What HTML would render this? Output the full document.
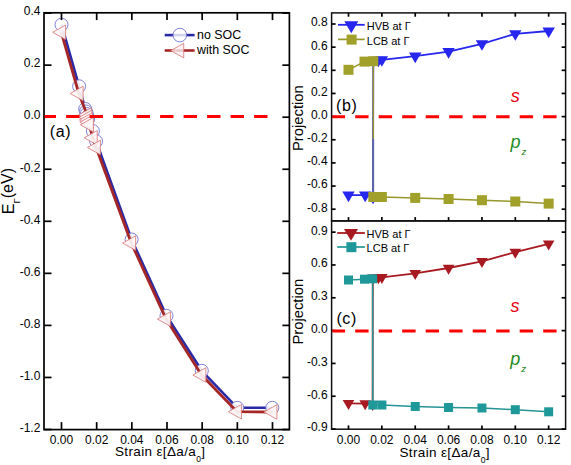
<!DOCTYPE html><html><head><meta charset="utf-8"><style>html,body{margin:0;padding:0;background:#fff;width:571px;height:465px;overflow:hidden;}svg text{font-family:"Liberation Sans", sans-serif;}</style></head><body><svg width="571" height="465" viewBox="0 0 571 465" style="position:absolute;left:0;top:0;font-family:'Liberation Sans', sans-serif">
<rect x="0" y="0" width="571" height="465" fill="#fff"/>
<polyline points="61.50,24.70 79.10,86.30 85.20,109.00 86.00,111.50 86.70,114.00 87.40,116.50 88.10,119.00 92.90,131.00 96.10,141.30 131.60,239.50 166.50,315.80 201.80,370.80 237.30,407.80 272.30,407.80" fill="none" stroke="#2a2aa6" stroke-width="2.6" stroke-linejoin="round" />
<circle cx="61.50" cy="24.70" r="6.5" fill="rgba(255,255,255,0.9)" stroke="#7272d4" stroke-width="0.9"/>
<circle cx="79.10" cy="86.30" r="6.5" fill="rgba(255,255,255,0.9)" stroke="#7272d4" stroke-width="0.9"/>
<circle cx="85.20" cy="109.00" r="6.5" fill="rgba(255,255,255,0.9)" stroke="#7272d4" stroke-width="0.9"/>
<circle cx="86.00" cy="111.50" r="6.5" fill="rgba(255,255,255,0.9)" stroke="#7272d4" stroke-width="0.9"/>
<circle cx="86.70" cy="114.00" r="6.5" fill="rgba(255,255,255,0.9)" stroke="#7272d4" stroke-width="0.9"/>
<circle cx="87.40" cy="116.50" r="6.5" fill="rgba(255,255,255,0.9)" stroke="#7272d4" stroke-width="0.9"/>
<circle cx="88.10" cy="119.00" r="6.5" fill="rgba(255,255,255,0.9)" stroke="#7272d4" stroke-width="0.9"/>
<circle cx="92.90" cy="131.00" r="6.5" fill="rgba(255,255,255,0.9)" stroke="#7272d4" stroke-width="0.9"/>
<circle cx="96.10" cy="141.30" r="6.5" fill="rgba(255,255,255,0.9)" stroke="#7272d4" stroke-width="0.9"/>
<circle cx="131.60" cy="239.50" r="6.5" fill="rgba(255,255,255,0.9)" stroke="#7272d4" stroke-width="0.9"/>
<circle cx="166.50" cy="315.80" r="6.5" fill="rgba(255,255,255,0.9)" stroke="#7272d4" stroke-width="0.9"/>
<circle cx="201.80" cy="370.80" r="6.5" fill="rgba(255,255,255,0.9)" stroke="#7272d4" stroke-width="0.9"/>
<circle cx="237.30" cy="407.80" r="6.5" fill="rgba(255,255,255,0.9)" stroke="#7272d4" stroke-width="0.9"/>
<circle cx="272.30" cy="407.80" r="6.5" fill="rgba(255,255,255,0.9)" stroke="#7272d4" stroke-width="0.9"/>
<polyline points="61.30,32.30 78.80,93.50 87.20,115.00 87.60,117.50 88.00,120.00 88.50,122.30 89.10,124.80 92.90,137.80 96.10,147.50 131.30,243.10 166.10,319.10 201.50,375.00 237.10,411.70 272.60,412.00" fill="none" stroke="#a52626" stroke-width="2.8" stroke-linejoin="round" />
<polygon points="52.63,32.30 65.63,25.00 65.63,39.60" fill="rgba(253,246,246,0.92)" stroke="#d87272" stroke-width="0.8" />
<polygon points="70.13,93.50 83.13,86.20 83.13,100.80" fill="rgba(253,246,246,0.92)" stroke="#d87272" stroke-width="0.8" />
<polygon points="78.53,115.00 91.53,107.70 91.53,122.30" fill="rgba(253,246,246,0.92)" stroke="#d87272" stroke-width="0.8" />
<polygon points="78.93,117.50 91.93,110.20 91.93,124.80" fill="rgba(253,246,246,0.92)" stroke="#d87272" stroke-width="0.8" />
<polygon points="79.33,120.00 92.33,112.70 92.33,127.30" fill="rgba(253,246,246,0.92)" stroke="#d87272" stroke-width="0.8" />
<polygon points="79.83,122.30 92.83,115.00 92.83,129.60" fill="rgba(253,246,246,0.92)" stroke="#d87272" stroke-width="0.8" />
<polygon points="80.43,124.80 93.43,117.50 93.43,132.10" fill="rgba(253,246,246,0.92)" stroke="#d87272" stroke-width="0.8" />
<polygon points="84.23,137.80 97.23,130.50 97.23,145.10" fill="rgba(253,246,246,0.92)" stroke="#d87272" stroke-width="0.8" />
<polygon points="87.43,147.50 100.43,140.20 100.43,154.80" fill="rgba(253,246,246,0.92)" stroke="#d87272" stroke-width="0.8" />
<polygon points="122.63,243.10 135.63,235.80 135.63,250.40" fill="rgba(253,246,246,0.92)" stroke="#d87272" stroke-width="0.8" />
<polygon points="157.43,319.10 170.43,311.80 170.43,326.40" fill="rgba(253,246,246,0.92)" stroke="#d87272" stroke-width="0.8" />
<polygon points="192.83,375.00 205.83,367.70 205.83,382.30" fill="rgba(253,246,246,0.92)" stroke="#d87272" stroke-width="0.8" />
<polygon points="228.43,411.70 241.43,404.40 241.43,419.00" fill="rgba(253,246,246,0.92)" stroke="#d87272" stroke-width="0.8" />
<polygon points="263.93,412.00 276.93,404.70 276.93,419.30" fill="rgba(253,246,246,0.92)" stroke="#d87272" stroke-width="0.8" />
<rect x="44.0" y="12.8" width="245.40" height="416.80" fill="none" stroke="#000" stroke-width="1.7"/>
<line x1="61.50" y1="429.60" x2="61.50" y2="422.10" stroke="#000" stroke-width="1.7" />
<line x1="61.50" y1="12.80" x2="61.50" y2="20.10" stroke="#000" stroke-width="1.7" />
<text x="61.50" y="443.50" font-size="12" text-anchor="middle" fill="#000" >0.00</text>
<line x1="96.67" y1="429.60" x2="96.67" y2="422.10" stroke="#000" stroke-width="1.7" />
<line x1="96.67" y1="12.80" x2="96.67" y2="20.10" stroke="#000" stroke-width="1.7" />
<text x="96.67" y="443.50" font-size="12" text-anchor="middle" fill="#000" >0.02</text>
<line x1="131.83" y1="429.60" x2="131.83" y2="422.10" stroke="#000" stroke-width="1.7" />
<line x1="131.83" y1="12.80" x2="131.83" y2="20.10" stroke="#000" stroke-width="1.7" />
<text x="131.83" y="443.50" font-size="12" text-anchor="middle" fill="#000" >0.04</text>
<line x1="167.00" y1="429.60" x2="167.00" y2="422.10" stroke="#000" stroke-width="1.7" />
<line x1="167.00" y1="12.80" x2="167.00" y2="20.10" stroke="#000" stroke-width="1.7" />
<text x="167.00" y="443.50" font-size="12" text-anchor="middle" fill="#000" >0.06</text>
<line x1="202.16" y1="429.60" x2="202.16" y2="422.10" stroke="#000" stroke-width="1.7" />
<line x1="202.16" y1="12.80" x2="202.16" y2="20.10" stroke="#000" stroke-width="1.7" />
<text x="202.16" y="443.50" font-size="12" text-anchor="middle" fill="#000" >0.08</text>
<line x1="237.33" y1="429.60" x2="237.33" y2="422.10" stroke="#000" stroke-width="1.7" />
<line x1="237.33" y1="12.80" x2="237.33" y2="20.10" stroke="#000" stroke-width="1.7" />
<text x="237.33" y="443.50" font-size="12" text-anchor="middle" fill="#000" >0.10</text>
<line x1="272.50" y1="429.60" x2="272.50" y2="422.10" stroke="#000" stroke-width="1.7" />
<line x1="272.50" y1="12.80" x2="272.50" y2="20.10" stroke="#000" stroke-width="1.7" />
<text x="272.50" y="443.50" font-size="12" text-anchor="middle" fill="#000" >0.12</text>
<line x1="44.00" y1="13.10" x2="51.50" y2="13.10" stroke="#000" stroke-width="1.7" />
<line x1="289.40" y1="13.10" x2="282.40" y2="13.10" stroke="#000" stroke-width="1.7" />
<text x="40.40" y="15.00" font-size="12" text-anchor="end" fill="#000" >0.4</text>
<line x1="44.00" y1="65.15" x2="51.50" y2="65.15" stroke="#000" stroke-width="1.7" />
<line x1="289.40" y1="65.15" x2="282.40" y2="65.15" stroke="#000" stroke-width="1.7" />
<text x="40.40" y="67.17" font-size="12" text-anchor="end" fill="#000" >0.2</text>
<line x1="44.00" y1="117.20" x2="51.50" y2="117.20" stroke="#000" stroke-width="1.7" />
<line x1="289.40" y1="117.20" x2="282.40" y2="117.20" stroke="#000" stroke-width="1.7" />
<text x="40.40" y="119.34" font-size="12" text-anchor="end" fill="#000" >0.0</text>
<line x1="44.00" y1="169.25" x2="51.50" y2="169.25" stroke="#000" stroke-width="1.7" />
<line x1="289.40" y1="169.25" x2="282.40" y2="169.25" stroke="#000" stroke-width="1.7" />
<text x="40.40" y="171.51" font-size="12" text-anchor="end" fill="#000" >-0.2</text>
<line x1="44.00" y1="221.30" x2="51.50" y2="221.30" stroke="#000" stroke-width="1.7" />
<line x1="289.40" y1="221.30" x2="282.40" y2="221.30" stroke="#000" stroke-width="1.7" />
<text x="40.40" y="223.68" font-size="12" text-anchor="end" fill="#000" >-0.4</text>
<line x1="44.00" y1="273.35" x2="51.50" y2="273.35" stroke="#000" stroke-width="1.7" />
<line x1="289.40" y1="273.35" x2="282.40" y2="273.35" stroke="#000" stroke-width="1.7" />
<text x="40.40" y="275.85" font-size="12" text-anchor="end" fill="#000" >-0.6</text>
<line x1="44.00" y1="325.40" x2="51.50" y2="325.40" stroke="#000" stroke-width="1.7" />
<line x1="289.40" y1="325.40" x2="282.40" y2="325.40" stroke="#000" stroke-width="1.7" />
<text x="40.40" y="328.02" font-size="12" text-anchor="end" fill="#000" >-0.8</text>
<line x1="44.00" y1="377.45" x2="51.50" y2="377.45" stroke="#000" stroke-width="1.7" />
<line x1="289.40" y1="377.45" x2="282.40" y2="377.45" stroke="#000" stroke-width="1.7" />
<text x="40.40" y="380.19" font-size="12" text-anchor="end" fill="#000" >-1.0</text>
<line x1="44.00" y1="429.50" x2="51.50" y2="429.50" stroke="#000" stroke-width="1.7" />
<line x1="289.40" y1="429.50" x2="282.40" y2="429.50" stroke="#000" stroke-width="1.7" />
<text x="40.40" y="432.36" font-size="12" text-anchor="end" fill="#000" >-1.2</text>
<line x1="44.6" y1="116.5" x2="268" y2="116.5" stroke="#f00" stroke-width="3" stroke-dasharray="13.4 10.1" stroke-dashoffset="2.0"/>
<line x1="164.70" y1="35.10" x2="194.60" y2="35.10" stroke="#2a2aa6" stroke-width="2.6" />
<circle cx="179.80" cy="35.10" r="6.8" fill="rgba(255,255,255,0.8)" stroke="#7272d4" stroke-width="0.9"/>
<line x1="164.70" y1="50.50" x2="194.60" y2="50.50" stroke="#a52626" stroke-width="2.6" />
<polygon points="170.73,50.60 183.73,43.30 183.73,57.90" fill="rgba(252,240,241,0.8)" stroke="#d87272" stroke-width="0.8" />
<text x="197.10" y="39.40" font-size="12.4" text-anchor="start" fill="#000" >no SOC</text>
<text x="197.10" y="54.10" font-size="12.4" text-anchor="start" fill="#000" >with SOC</text>
<text x="49.80" y="137.20" font-size="16" text-anchor="start" fill="#000" letter-spacing="0.6">(a)</text>
<text x="115.00" y="456.20" font-size="13.5" text-anchor="start" fill="#000" letter-spacing="0.35">Strain &#949;[&#916;a/a<tspan font-size="8.5" dy="5.8">0</tspan><tspan dy="-5.8">]</tspan></text>
<text transform="translate(13.6,214.2) rotate(-90)" font-size="16" fill="#000">E<tspan font-size="9.6" dy="6.3">&#915;</tspan><tspan dy="-6.5">(eV)</tspan></text>
<polyline points="348.50,195.10 365.18,195.10 373.00,197.20 373.30,60.50 378.40,60.20 381.86,59.80 415.22,56.10 448.58,51.60 481.94,43.80 515.30,33.80 548.66,31.00" fill="none" stroke="#2626ee" stroke-width="1.8" stroke-linejoin="round" />
<polygon points="342.30,191.57 354.70,191.57 348.50,202.17" fill="#2626ee" stroke="none" stroke-width="1" />
<polygon points="358.98,191.57 371.38,191.57 365.18,202.17" fill="#2626ee" stroke="none" stroke-width="1" />
<polygon points="366.80,193.67 379.20,193.67 373.00,204.27" fill="#2626ee" stroke="none" stroke-width="1" />
<polygon points="367.10,56.97 379.50,56.97 373.30,67.57" fill="#2626ee" stroke="none" stroke-width="1" />
<polygon points="372.20,56.67 384.60,56.67 378.40,67.27" fill="#2626ee" stroke="none" stroke-width="1" />
<polygon points="375.66,56.27 388.06,56.27 381.86,66.87" fill="#2626ee" stroke="none" stroke-width="1" />
<polygon points="409.02,52.57 421.42,52.57 415.22,63.17" fill="#2626ee" stroke="none" stroke-width="1" />
<polygon points="442.38,48.07 454.78,48.07 448.58,58.67" fill="#2626ee" stroke="none" stroke-width="1" />
<polygon points="475.74,40.27 488.14,40.27 481.94,50.87" fill="#2626ee" stroke="none" stroke-width="1" />
<polygon points="509.10,30.27 521.50,30.27 515.30,40.87" fill="#2626ee" stroke="none" stroke-width="1" />
<polygon points="542.46,27.47 554.86,27.47 548.66,38.07" fill="#2626ee" stroke="none" stroke-width="1" />
<polyline points="348.50,69.80 364.50,61.60 373.30,61.20 373.30,197.00 381.86,197.00 415.22,197.90 448.58,199.00 481.94,200.20 515.30,201.50 548.66,203.60" fill="none" stroke="#96962a" stroke-width="1.5" stroke-linejoin="round" />
<line x1="373.30" y1="139.00" x2="373.30" y2="196.00" stroke="#5a64b4" stroke-width="1.6" />
<rect x="343.50" y="64.80" width="10" height="10" fill="#a0a02a"/>
<rect x="359.50" y="56.60" width="10" height="10" fill="#a0a02a"/>
<rect x="368.30" y="56.20" width="10" height="10" fill="#a0a02a"/>
<rect x="368.30" y="192.00" width="10" height="10" fill="#a0a02a"/>
<rect x="376.86" y="192.00" width="10" height="10" fill="#a0a02a"/>
<rect x="410.22" y="192.90" width="10" height="10" fill="#a0a02a"/>
<rect x="443.58" y="194.00" width="10" height="10" fill="#a0a02a"/>
<rect x="476.94" y="195.20" width="10" height="10" fill="#a0a02a"/>
<rect x="510.30" y="196.50" width="10" height="10" fill="#a0a02a"/>
<rect x="543.66" y="198.60" width="10" height="10" fill="#a0a02a"/>
<rect x="331.6" y="12.9" width="234.00" height="208.00" fill="none" stroke="#111" stroke-width="1.5"/>
<line x1="348.50" y1="12.90" x2="348.50" y2="16.70" stroke="#000" stroke-width="1.7" />
<line x1="348.50" y1="220.90" x2="348.50" y2="217.10" stroke="#000" stroke-width="1.7" />
<line x1="381.86" y1="12.90" x2="381.86" y2="16.70" stroke="#000" stroke-width="1.7" />
<line x1="381.86" y1="220.90" x2="381.86" y2="217.10" stroke="#000" stroke-width="1.7" />
<line x1="415.22" y1="12.90" x2="415.22" y2="16.70" stroke="#000" stroke-width="1.7" />
<line x1="415.22" y1="220.90" x2="415.22" y2="217.10" stroke="#000" stroke-width="1.7" />
<line x1="448.58" y1="12.90" x2="448.58" y2="16.70" stroke="#000" stroke-width="1.7" />
<line x1="448.58" y1="220.90" x2="448.58" y2="217.10" stroke="#000" stroke-width="1.7" />
<line x1="481.94" y1="12.90" x2="481.94" y2="16.70" stroke="#000" stroke-width="1.7" />
<line x1="481.94" y1="220.90" x2="481.94" y2="217.10" stroke="#000" stroke-width="1.7" />
<line x1="515.30" y1="12.90" x2="515.30" y2="16.70" stroke="#000" stroke-width="1.7" />
<line x1="515.30" y1="220.90" x2="515.30" y2="217.10" stroke="#000" stroke-width="1.7" />
<line x1="548.66" y1="12.90" x2="548.66" y2="16.70" stroke="#000" stroke-width="1.7" />
<line x1="548.66" y1="220.90" x2="548.66" y2="217.10" stroke="#000" stroke-width="1.7" />
<line x1="331.60" y1="24.00" x2="335.60" y2="24.00" stroke="#000" stroke-width="1.7" />
<line x1="565.60" y1="24.00" x2="561.60" y2="24.00" stroke="#000" stroke-width="1.7" />
<text x="327.60" y="26.40" font-size="12" text-anchor="end" fill="#000" >0.8</text>
<line x1="331.60" y1="47.15" x2="335.60" y2="47.15" stroke="#000" stroke-width="1.7" />
<line x1="565.60" y1="47.15" x2="561.60" y2="47.15" stroke="#000" stroke-width="1.7" />
<text x="327.60" y="49.55" font-size="12" text-anchor="end" fill="#000" >0.6</text>
<line x1="331.60" y1="70.30" x2="335.60" y2="70.30" stroke="#000" stroke-width="1.7" />
<line x1="565.60" y1="70.30" x2="561.60" y2="70.30" stroke="#000" stroke-width="1.7" />
<text x="327.60" y="72.70" font-size="12" text-anchor="end" fill="#000" >0.4</text>
<line x1="331.60" y1="93.45" x2="335.60" y2="93.45" stroke="#000" stroke-width="1.7" />
<line x1="565.60" y1="93.45" x2="561.60" y2="93.45" stroke="#000" stroke-width="1.7" />
<text x="327.60" y="95.85" font-size="12" text-anchor="end" fill="#000" >0.2</text>
<line x1="331.60" y1="116.60" x2="335.60" y2="116.60" stroke="#000" stroke-width="1.7" />
<line x1="565.60" y1="116.60" x2="561.60" y2="116.60" stroke="#000" stroke-width="1.7" />
<text x="327.60" y="119.00" font-size="12" text-anchor="end" fill="#000" >0.0</text>
<line x1="331.60" y1="139.75" x2="335.60" y2="139.75" stroke="#000" stroke-width="1.7" />
<line x1="565.60" y1="139.75" x2="561.60" y2="139.75" stroke="#000" stroke-width="1.7" />
<text x="327.60" y="142.15" font-size="12" text-anchor="end" fill="#000" >-0.2</text>
<line x1="331.60" y1="162.90" x2="335.60" y2="162.90" stroke="#000" stroke-width="1.7" />
<line x1="565.60" y1="162.90" x2="561.60" y2="162.90" stroke="#000" stroke-width="1.7" />
<text x="327.60" y="165.30" font-size="12" text-anchor="end" fill="#000" >-0.4</text>
<line x1="331.60" y1="186.05" x2="335.60" y2="186.05" stroke="#000" stroke-width="1.7" />
<line x1="565.60" y1="186.05" x2="561.60" y2="186.05" stroke="#000" stroke-width="1.7" />
<text x="327.60" y="188.45" font-size="12" text-anchor="end" fill="#000" >-0.6</text>
<line x1="331.60" y1="209.20" x2="335.60" y2="209.20" stroke="#000" stroke-width="1.7" />
<line x1="565.60" y1="209.20" x2="561.60" y2="209.20" stroke="#000" stroke-width="1.7" />
<text x="327.60" y="211.60" font-size="12" text-anchor="end" fill="#000" >-0.8</text>
<line x1="332.4" y1="116.7" x2="560" y2="116.7" stroke="#f00" stroke-width="3" stroke-dasharray="13.4 10.1" stroke-dashoffset="0.7"/>
<line x1="338.00" y1="24.80" x2="364.70" y2="24.80" stroke="#2626ee" stroke-width="1.8" />
<polygon points="344.30,21.30 358.30,21.30 351.30,33.30" fill="#2626ee" stroke="none" stroke-width="1" />
<line x1="338.00" y1="39.40" x2="364.70" y2="39.40" stroke="#96962a" stroke-width="1.7" />
<rect x="346.60" y="34.60" width="10" height="10" fill="#a0a02a"/>
<text x="366.80" y="29.80" font-size="11" text-anchor="start" fill="#000" >HVB at &#915;</text>
<text x="366.80" y="44.50" font-size="11" text-anchor="start" fill="#000" >LCB at &#915;</text>
<text x="336.00" y="111.00" font-size="16" text-anchor="start" fill="#000" letter-spacing="0.6">(b)</text>
<text transform="translate(302.9,151.0) rotate(-90)" font-size="14" fill="#000" textLength="65.8" lengthAdjust="spacingAndGlyphs">Projection</text>
<text x="510.80" y="101.60" font-size="18" text-anchor="start" fill="#e80010" font-style="italic">s</text>
<text x="510.50" y="147.60" font-size="18" text-anchor="start" fill="#1f8a1f" font-style="italic">p<tspan font-size="9.6" dx="0.9" dy="7.3">z</tspan></text>
<polyline points="348.50,403.30 365.18,403.60 372.60,404.30 372.80,277.80 378.40,277.60 381.86,277.30 415.22,273.40 448.58,268.00 481.94,261.30 515.30,252.10 548.66,243.80" fill="none" stroke="#a81a22" stroke-width="1.8" stroke-linejoin="round" />
<polygon points="342.70,399.97 354.30,399.97 348.50,409.97" fill="#a81a22" stroke="none" stroke-width="1" />
<polygon points="359.38,400.27 370.98,400.27 365.18,410.27" fill="#a81a22" stroke="none" stroke-width="1" />
<polygon points="366.80,400.97 378.40,400.97 372.60,410.97" fill="#a81a22" stroke="none" stroke-width="1" />
<polygon points="367.00,274.47 378.60,274.47 372.80,284.47" fill="#a81a22" stroke="none" stroke-width="1" />
<polygon points="372.60,274.27 384.20,274.27 378.40,284.27" fill="#a81a22" stroke="none" stroke-width="1" />
<polygon points="376.06,273.97 387.66,273.97 381.86,283.97" fill="#a81a22" stroke="none" stroke-width="1" />
<polygon points="409.42,270.07 421.02,270.07 415.22,280.07" fill="#a81a22" stroke="none" stroke-width="1" />
<polygon points="442.78,264.67 454.38,264.67 448.58,274.67" fill="#a81a22" stroke="none" stroke-width="1" />
<polygon points="476.14,257.97 487.74,257.97 481.94,267.97" fill="#a81a22" stroke="none" stroke-width="1" />
<polygon points="509.50,248.77 521.10,248.77 515.30,258.77" fill="#a81a22" stroke="none" stroke-width="1" />
<polygon points="542.86,240.47 554.46,240.47 548.66,250.47" fill="#a81a22" stroke="none" stroke-width="1" />
<polyline points="348.50,280.00 364.50,279.20 372.60,278.80 372.80,405.00 381.86,405.00 415.22,406.50 448.58,407.50 481.94,408.00 515.30,409.70 548.66,411.80" fill="none" stroke="#249494" stroke-width="1.5" stroke-linejoin="round" />
<rect x="344.00" y="275.50" width="9" height="9" fill="#1e9898"/>
<rect x="360.00" y="274.70" width="9" height="9" fill="#1e9898"/>
<rect x="368.10" y="274.30" width="9" height="9" fill="#1e9898"/>
<rect x="368.30" y="400.50" width="9" height="9" fill="#1e9898"/>
<rect x="377.36" y="400.50" width="9" height="9" fill="#1e9898"/>
<rect x="410.72" y="402.00" width="9" height="9" fill="#1e9898"/>
<rect x="444.08" y="403.00" width="9" height="9" fill="#1e9898"/>
<rect x="477.44" y="403.50" width="9" height="9" fill="#1e9898"/>
<rect x="510.80" y="405.20" width="9" height="9" fill="#1e9898"/>
<rect x="544.16" y="407.30" width="9" height="9" fill="#1e9898"/>
<rect x="331.6" y="220.9" width="234.00" height="208.30" fill="none" stroke="#111" stroke-width="1.5"/>
<line x1="348.50" y1="429.20" x2="348.50" y2="425.40" stroke="#000" stroke-width="1.7" />
<text x="348.50" y="443.50" font-size="12" text-anchor="middle" fill="#000" >0.00</text>
<line x1="381.86" y1="429.20" x2="381.86" y2="425.40" stroke="#000" stroke-width="1.7" />
<text x="381.86" y="443.50" font-size="12" text-anchor="middle" fill="#000" >0.02</text>
<line x1="415.22" y1="429.20" x2="415.22" y2="425.40" stroke="#000" stroke-width="1.7" />
<text x="415.22" y="443.50" font-size="12" text-anchor="middle" fill="#000" >0.04</text>
<line x1="448.58" y1="429.20" x2="448.58" y2="425.40" stroke="#000" stroke-width="1.7" />
<text x="448.58" y="443.50" font-size="12" text-anchor="middle" fill="#000" >0.06</text>
<line x1="481.94" y1="429.20" x2="481.94" y2="425.40" stroke="#000" stroke-width="1.7" />
<text x="481.94" y="443.50" font-size="12" text-anchor="middle" fill="#000" >0.08</text>
<line x1="515.30" y1="429.20" x2="515.30" y2="425.40" stroke="#000" stroke-width="1.7" />
<text x="515.30" y="443.50" font-size="12" text-anchor="middle" fill="#000" >0.10</text>
<line x1="548.66" y1="429.20" x2="548.66" y2="425.40" stroke="#000" stroke-width="1.7" />
<text x="548.66" y="443.50" font-size="12" text-anchor="middle" fill="#000" >0.12</text>
<line x1="331.60" y1="232.14" x2="335.60" y2="232.14" stroke="#000" stroke-width="1.7" />
<line x1="565.60" y1="232.14" x2="561.60" y2="232.14" stroke="#000" stroke-width="1.7" />
<text x="327.60" y="234.54" font-size="12" text-anchor="end" fill="#000" >0.9</text>
<line x1="331.60" y1="264.96" x2="335.60" y2="264.96" stroke="#000" stroke-width="1.7" />
<line x1="565.60" y1="264.96" x2="561.60" y2="264.96" stroke="#000" stroke-width="1.7" />
<text x="327.60" y="267.36" font-size="12" text-anchor="end" fill="#000" >0.6</text>
<line x1="331.60" y1="297.78" x2="335.60" y2="297.78" stroke="#000" stroke-width="1.7" />
<line x1="565.60" y1="297.78" x2="561.60" y2="297.78" stroke="#000" stroke-width="1.7" />
<text x="327.60" y="300.18" font-size="12" text-anchor="end" fill="#000" >0.3</text>
<line x1="331.60" y1="330.60" x2="335.60" y2="330.60" stroke="#000" stroke-width="1.7" />
<line x1="565.60" y1="330.60" x2="561.60" y2="330.60" stroke="#000" stroke-width="1.7" />
<text x="327.60" y="333.00" font-size="12" text-anchor="end" fill="#000" >0.0</text>
<line x1="331.60" y1="363.42" x2="335.60" y2="363.42" stroke="#000" stroke-width="1.7" />
<line x1="565.60" y1="363.42" x2="561.60" y2="363.42" stroke="#000" stroke-width="1.7" />
<text x="327.60" y="365.82" font-size="12" text-anchor="end" fill="#000" >-0.3</text>
<line x1="331.60" y1="396.24" x2="335.60" y2="396.24" stroke="#000" stroke-width="1.7" />
<line x1="565.60" y1="396.24" x2="561.60" y2="396.24" stroke="#000" stroke-width="1.7" />
<text x="327.60" y="398.64" font-size="12" text-anchor="end" fill="#000" >-0.6</text>
<line x1="331.60" y1="429.06" x2="335.60" y2="429.06" stroke="#000" stroke-width="1.7" />
<line x1="565.60" y1="429.06" x2="561.60" y2="429.06" stroke="#000" stroke-width="1.7" />
<text x="327.60" y="431.46" font-size="12" text-anchor="end" fill="#000" >-0.9</text>
<line x1="332.4" y1="330.9" x2="560" y2="330.9" stroke="#f00" stroke-width="3" stroke-dasharray="13.4 10.1" stroke-dashoffset="0.7"/>
<line x1="337.20" y1="233.00" x2="364.90" y2="233.00" stroke="#a81a22" stroke-width="1.8" />
<polygon points="344.00,229.10 358.00,229.10 351.00,240.80" fill="#a81a22" stroke="none" stroke-width="1" />
<line x1="337.20" y1="247.00" x2="364.90" y2="247.00" stroke="#249494" stroke-width="1.7" />
<rect x="346.40" y="242.20" width="10" height="10" fill="#1e9898"/>
<text x="366.60" y="237.50" font-size="11" text-anchor="start" fill="#000" >HVB at &#915;</text>
<text x="366.60" y="252.00" font-size="11" text-anchor="start" fill="#000" >LCB at &#915;</text>
<text x="336.40" y="324.40" font-size="16" text-anchor="start" fill="#000" letter-spacing="0.6">(c)</text>
<text transform="translate(303.4,344.6) rotate(-90)" font-size="14" fill="#000" textLength="65.8" lengthAdjust="spacingAndGlyphs">Projection</text>
<text x="510.60" y="311.60" font-size="18" text-anchor="start" fill="#e80010" font-style="italic">s</text>
<text x="510.30" y="364.90" font-size="18" text-anchor="start" fill="#1f8a1f" font-style="italic">p<tspan font-size="9.6" dx="0.9" dy="7.3">z</tspan></text>
<text x="399.50" y="457.20" font-size="13.5" text-anchor="start" fill="#000" letter-spacing="0.35">Strain &#949;[&#916;a/a<tspan font-size="8.5" dy="5.8">0</tspan><tspan dy="-5.8">]</tspan></text>
</svg></body></html>
